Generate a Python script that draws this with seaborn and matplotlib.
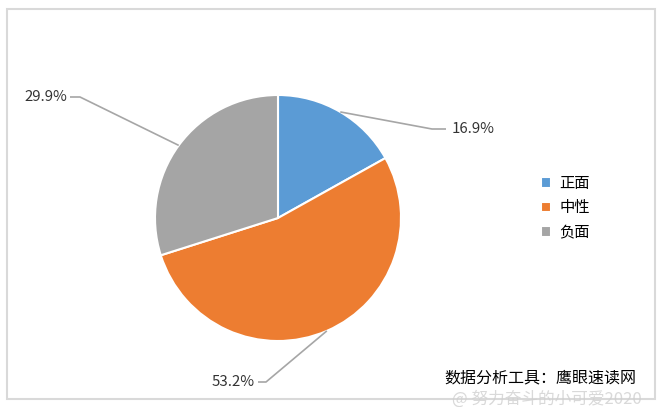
import numpy as np
import matplotlib
matplotlib.use('Agg')
import matplotlib.pyplot as plt
from matplotlib.patches import Rectangle
import seaborn as sns

# données
categories = ['正面', '中性', '负面']
values = [16.9, 53.2, 29.9]
labels = ['16.9%', '53.2%', '29.9%']
colors = ['#5B9BD5', '#ED7D31', '#A5A5A5']
source_text = '数据分析工具：鹰眼速读网'
watermark = '@ 努力奋斗的小可爱2020'

sns.set_theme(style='white')
plt.rcParams['font.family'] = ['Noto Sans CJK SC', 'DejaVu Sans']

W, H = 665, 407
fig = plt.figure(figsize=(W / 100, H / 100), dpi=100)
ax = fig.add_axes([0, 0, 1, 1])

cx, cy, r = 278, H - 218, 123
wedges, _ = ax.pie(values, colors=colors, startangle=90, counterclock=False,
                   radius=r, center=(cx, cy),
                   wedgeprops=dict(edgecolor='white', linewidth=1.5))
ax.set_xlim(0, W)
ax.set_ylim(0, H)
ax.set_aspect('equal')
ax.axis('off')

# cadre du graphique
ax.add_patch(Rectangle((7, H - 399), 648, 390, fill=False,
                       edgecolor='#d9d9d9', linewidth=1.5))

# étiquettes avec lignes de rappel (position du texte, coude)
label_pos = [(452, 129, 'left', 432), (255, 382, 'right', 266), (67, 97, 'right', 80)]
for w, lab, (tx, ty, ha, ex) in zip(wedges, labels, label_pos):
    ang = np.deg2rad((w.theta1 + w.theta2) / 2)
    px, py = cx + r * np.cos(ang), cy + r * np.sin(ang)
    ty = H - ty
    if ha == 'left':
        xs = [px, ex, tx - 6]
    else:
        xs = [px, ex, tx + 3]
    ax.plot(xs, [py, ty, ty], color='#a6a6a6', lw=1.2, solid_capstyle='butt')
    ax.text(tx, ty, lab, ha=ha, va='center', fontsize=10.8, color='#333333')

leg = ax.legend(wedges, categories, loc='center left',
                bbox_to_anchor=(527 / W, 1 - 208 / H), frameon=False,
                fontsize=11, handlelength=0.7, handleheight=0.7,
                handletextpad=0.5, labelspacing=0.5)
for t in leg.get_texts():
    t.set_color('#000000')

ax.text(540, H - 378, source_text, ha='center', va='center', fontsize=11.5, color='#000000')
ax.text(452, H - 399, watermark, ha='left', va='center', fontsize=12,
        color='#d0d0d0', alpha=0.8)

fig.savefig('out.png', dpi=100)
